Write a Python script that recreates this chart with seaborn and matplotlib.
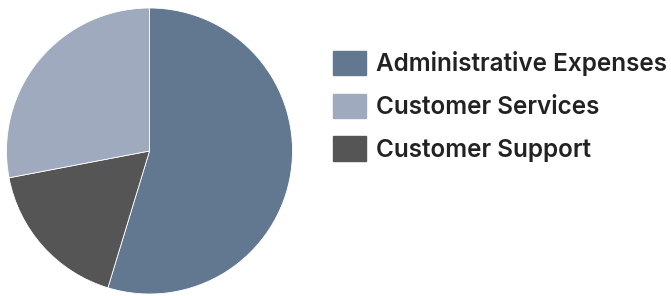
import matplotlib
matplotlib.use("Agg")
import matplotlib.pyplot as plt
import matplotlib.patches as mpatches
import seaborn as sns

categories = ["Administrative Expenses", "Customer Support", "Customer Services"]
values = [54.7, 17.3, 28.0]
colors = ["#627891", "#555555", "#9faabe"]
legend_order = ["Administrative Expenses", "Customer Services", "Customer Support"]

sns.set_theme(style="white")
plt.rcParams["font.family"] = ["Inter", "DejaVu Sans"]

W, H = 671, 296
fig = plt.figure(figsize=(W / 100, H / 100), dpi=100)
cx, cy, r = 149.5, 151, 143
ax = fig.add_axes([(cx - r) / W, (H - cy - r) / H, 2 * r / W, 2 * r / H])
ax.pie(values, colors=colors, startangle=90, counterclock=False, radius=1,
       wedgeprops=dict(linewidth=0.6, edgecolor="white"))
ax.set_xlim(-1, 1)
ax.set_ylim(-1, 1)
ax.set_aspect("equal")
ax.axis("off")

cmap = dict(zip(categories, colors))
handles = [mpatches.Patch(color=cmap[c], label=c) for c in legend_order]
fig.legend(handles=handles, loc="upper left", bbox_to_anchor=(328 / W, 1 - 46 / H),
           frameon=False, prop=dict(size=17.5, weight="semibold"),
           handlelength=1.36, handleheight=1.15, labelcolor="#222222",
           handletextpad=0.4, labelspacing=0.72, borderaxespad=0, borderpad=0.2)

fig.savefig("out.png", dpi=100)
